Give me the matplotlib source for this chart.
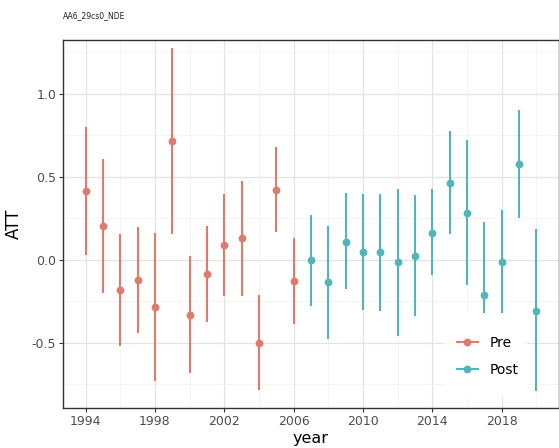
import numpy as np
import matplotlib.pyplot as plt
from matplotlib.lines import Line2D
from matplotlib.patches import Rectangle
from matplotlib.ticker import MultipleLocator

# pre-treatment periods
pre_years = [1994, 1995, 1996, 1997, 1998, 1999, 2000, 2001, 2002, 2003, 2004, 2005, 2006]
pre_att = [0.414, 0.203, -0.181, -0.122, -0.287, 0.717, -0.331, -0.084, 0.088, 0.128, -0.500, 0.420, -0.127]
pre_lo = [0.026, -0.201, -0.522, -0.442, -0.733, 0.153, -0.685, -0.375, -0.219, -0.219, -0.787, 0.167, -0.389]
pre_hi = [0.803, 0.608, 0.155, 0.197, 0.163, 1.279, 0.022, 0.203, 0.398, 0.472, -0.211, 0.677, 0.131]

# post-treatment periods
post_years = [2007, 2008, 2009, 2010, 2011, 2012, 2013, 2014, 2015, 2016, 2017, 2018, 2019, 2020]
post_att = [-0.004, -0.135, 0.108, 0.044, 0.044, -0.016, 0.022, 0.163, 0.464, 0.283, -0.213, -0.016, 0.578, -0.307]
post_lo = [-0.281, -0.476, -0.179, -0.305, -0.311, -0.460, -0.343, -0.094, 0.153, -0.153, -0.653, -0.333, 0.249, -0.793]
post_hi = [0.271, 0.203, 0.402, 0.398, 0.398, 0.424, 0.388, 0.424, 0.777, 0.721, 0.227, 0.301, 0.904, 0.185]

col_pre = '#E07A6F'
col_post = '#52B5BC'
text_col = '#4D4D4D'

fig = plt.figure(figsize=(5.59, 4.48), dpi=100)
ax = fig.add_axes([0.1127, 0.0893, 0.887, 0.8214])

for yrs, att, lo, hi, c in [(pre_years, pre_att, pre_lo, pre_hi, col_pre),
                             (post_years, post_att, post_lo, post_hi, col_post)]:
    yrs = np.array(yrs)
    att = np.array(att)
    err = [att - np.array(lo), np.array(hi) - att]
    ax.errorbar(yrs, att, yerr=err, fmt='o', color=c, ms=4.6, elinewidth=1.5,
                capsize=0, zorder=3)

ax.set_xticks([1994, 1998, 2002, 2006, 2010, 2014, 2018])
ax.set_xticks(np.arange(1992, 2022, 2), minor=True)
ax.yaxis.set_major_locator(MultipleLocator(0.5))
ax.yaxis.set_minor_locator(MultipleLocator(0.25))
ax.yaxis.set_major_formatter(plt.FuncFormatter(lambda v, p: f'{v:.1f}'))
ax.set_xlim(1992.7, 2021.3)
ax.set_ylim(-0.895, 1.325)

ax.grid(which='major', color='#E3E3E3', lw=0.9, zorder=0)
ax.grid(which='minor', color='#F2F2F2', lw=0.6, zorder=0)
ax.set_axisbelow(True)
ax.tick_params(which='major', length=3, color='#333333', labelcolor=text_col, labelsize=9, pad=2)
ax.tick_params(which='minor', length=0)
for s in ax.spines.values():
    s.set_color('#333333')
    s.set_linewidth(1.0)

ax.set_xlabel('year', fontsize=11.5, color='black', labelpad=2)
ax.set_ylabel('ATT', fontsize=12, color='black', labelpad=6)
fig.text(0.113, 0.955, 'AA6_29cs0_NDE', fontsize=5.5, color='#222222', va='bottom')

# white legend background drawn over the marks
ax.add_patch(Rectangle((0.771, 0.03), 0.165, 0.228, transform=ax.transAxes,
                       facecolor='white', edgecolor='none', zorder=4))
handles = [Line2D([], [], color=col_pre, marker='o', ms=4.6, lw=1.5),
           Line2D([], [], color=col_post, marker='o', ms=4.6, lw=1.5)]
leg = ax.legend(handles, ['Pre', 'Post'], loc='upper left', bbox_to_anchor=(0.794, 0.196),
                frameon=False, fontsize=10, handlelength=1.5, borderpad=0,
                labelspacing=0.95, handletextpad=0.85, borderaxespad=0)
leg.set_zorder(5)

fig.savefig('out.png', dpi=100)
